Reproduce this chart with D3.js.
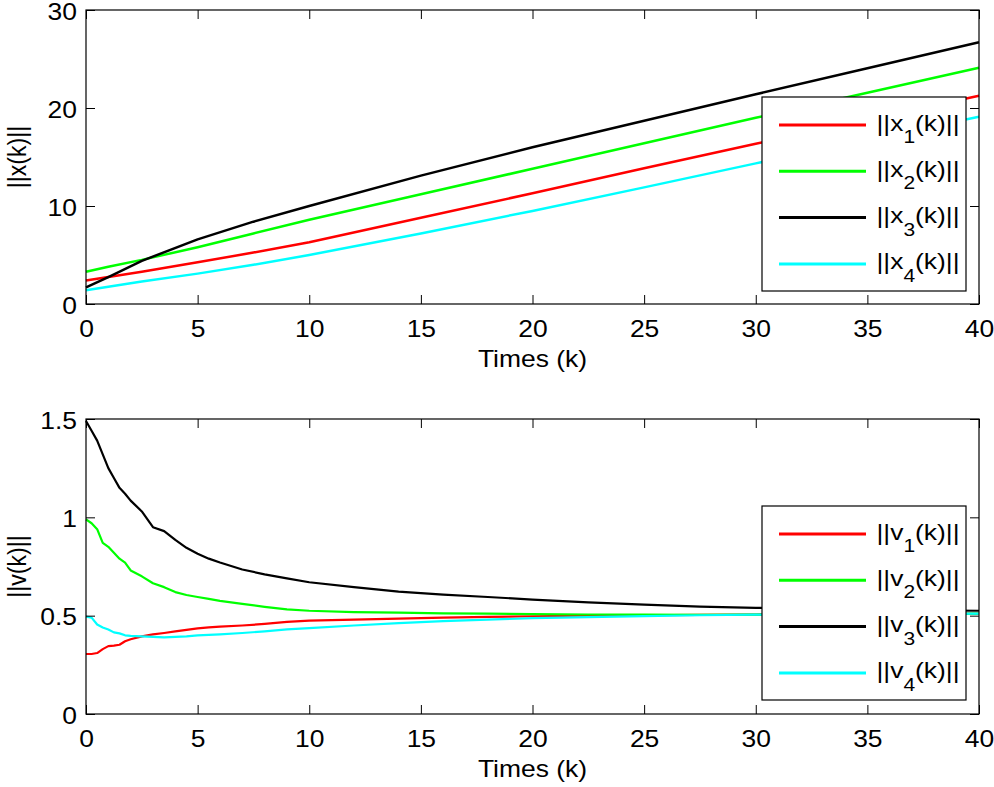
<!DOCTYPE html>
<html>
<head>
<meta charset="utf-8">
<script src="https://cdn.jsdelivr.net/npm/d3@7"></script>
<style>
  body { margin: 0; background: #fff; }
  text { font-family: "Liberation Sans", Arial, Helvetica, sans-serif; fill: #000; }
</style>
</head>
<body>
<svg id="chart" width="994" height="787"></svg>
<script>
const seriesColors = ["#ff0000", "#00ff00", "#000000", "#00ffff"];
const xTicks = [0, 5, 10, 15, 20, 25, 30, 35, 40];
const topYTicks = [0, 10, 20, 30];
const botYTicks = [0, 0.5, 1, 1.5];
const botYTickLabels = ["0", "0.5", "1", "1.5"];

// position norms
const kPos = [0, 1, 2.5, 5, 7.5, 10, 15, 20, 25, 30, 35, 40];
const x1 = [2.4, 2.75, 3.3, 4.25, 5.25, 6.3, 8.8, 11.3, 13.85, 16.35, 18.8, 21.25];
const x2 = [3.3, 3.8, 4.5, 5.8, 7.2, 8.6, 11.2, 13.8, 16.4, 19.0, 21.55, 24.1];
const x3 = [1.7, 2.75, 4.4, 6.6, 8.4, 10.0, 13.1, 16.0, 18.7, 21.4, 24.05, 26.7];
const x4 = [1.4, 1.75, 2.3, 3.1, 4.0, 5.0, 7.2, 9.5, 11.9, 14.35, 16.75, 19.1];

// velocity norms
const kVel = [0, 0.25, 0.5, 0.75, 1, 1.25, 1.5, 1.75, 2, 2.5, 3, 3.5, 4, 4.5, 5, 5.5, 6, 7, 8, 9, 10,
  12, 14, 16, 18, 20, 22.5, 25, 27.5, 30, 32.5, 35, 37.5, 40];
const v1 = [0.305, 0.305, 0.31, 0.33, 0.345, 0.348, 0.352, 0.37, 0.38, 0.395, 0.405, 0.412, 0.42, 0.428,
  0.435, 0.44, 0.444, 0.45, 0.458, 0.468, 0.475, 0.48, 0.485, 0.49, 0.494, 0.497, 0.5, 0.502, 0.504,
  0.506, 0.507, 0.508, 0.509, 0.51];
const v2 = [0.99, 0.97, 0.94, 0.87, 0.85, 0.82, 0.79, 0.77, 0.73, 0.70, 0.665, 0.645, 0.62, 0.605,
  0.595, 0.585, 0.575, 0.56, 0.545, 0.532, 0.525, 0.518, 0.515, 0.512, 0.51, 0.508, 0.506, 0.505,
  0.504, 0.505, 0.506, 0.507, 0.508, 0.51];
const v3 = [1.49, 1.44, 1.39, 1.32, 1.25, 1.20, 1.15, 1.12, 1.085, 1.03, 0.95, 0.93, 0.885, 0.845,
  0.815, 0.79, 0.77, 0.735, 0.71, 0.69, 0.67, 0.645, 0.622, 0.607, 0.595, 0.582, 0.568, 0.556,
  0.546, 0.54, 0.535, 0.53, 0.527, 0.525];
const v4 = [0.495, 0.49, 0.455, 0.44, 0.43, 0.415, 0.41, 0.40, 0.397, 0.395, 0.392, 0.39, 0.392, 0.395,
  0.40, 0.402, 0.405, 0.412, 0.42, 0.43, 0.437, 0.45, 0.462, 0.472, 0.48, 0.487, 0.493, 0.498, 0.502,
  0.505, 0.507, 0.508, 0.509, 0.51];

const svg = d3.select("#chart");
const sx = 1.15; // labels in the figure are a bit wider than Liberation Sans

function drawPanel(opt) {
  const left = 86, right = 979;
  const w = right - left, h = opt.bottom - opt.top;
  const g = svg.append("g").attr("transform", `translate(${left},${opt.top})`);

  const x = d3.scaleLinear().domain([0, 40]).range([0, w]);
  const y = d3.scaleLinear().domain(opt.yDomain).range([h, 0]);

  // lines
  const line = d3.line().x(d => x(d[0])).y(d => y(d[1]));
  opt.series.forEach((vals, i) => {
    g.append("path")
      .datum(opt.k.map((k, j) => [k, vals[j]]))
      .attr("fill", "none")
      .attr("stroke", seriesColors[i])
      .attr("stroke-width", opt.lw)
      .attr("stroke-linejoin", "round")
      .attr("d", line);
  });

  // axes, ticks pointing inward like matlab
  const xb = g.append("g").attr("transform", `translate(0,${h})`)
    .call(d3.axisBottom(x).tickValues(xTicks).tickSizeInner(-9).tickSizeOuter(0).tickPadding(17));
  const yl = g.append("g")
    .call(d3.axisLeft(y).tickValues(opt.yTicks).tickFormat((d, i) => opt.yLabels[i])
      .tickSizeInner(-9).tickSizeOuter(0).tickPadding(9));
  g.append("g").call(d3.axisTop(x).tickValues(xTicks).tickSizeInner(-9).tickSizeOuter(0).tickFormat(""));
  g.append("g").attr("transform", `translate(${w},0)`)
    .call(d3.axisRight(y).tickValues(opt.yTicks).tickSizeInner(-9).tickSizeOuter(0).tickFormat(""));
  g.selectAll(".domain").remove();
  g.selectAll(".tick line").attr("stroke", "#000");

  xb.selectAll("text").attr("font-size", 23).attr("transform", `scale(${sx},1)`);
  yl.selectAll("text").attr("font-size", 23).attr("dy", "0.4em")
    .attr("x", -9 / sx).attr("transform", `scale(${sx},1)`);

  g.append("rect").attr("width", w).attr("height", h)
    .attr("fill", "none").attr("stroke", "#000").attr("stroke-width", 1.2);

  // axis titles
  g.append("text")
    .attr("transform", `translate(${w / 2},${h + 62.5}) scale(${sx},1)`)
    .attr("text-anchor", "middle").attr("font-size", 23)
    .text("Times (k)");
  g.append("text")
    .attr("transform", `translate(${26 - left},${h / 2}) rotate(-90) scale(1.05,1.15)`)
    .attr("text-anchor", "middle").attr("font-size", 22)
    .text(opt.yTitle);

  // legend
  const lg = svg.append("g").attr("transform", `translate(762,${opt.legendTop})`);
  lg.append("rect").attr("width", 204).attr("height", 194)
    .attr("fill", "#fff").attr("stroke", "#000").attr("stroke-width", 1.2);
  seriesColors.forEach((c, i) => {
    const yy = 28 + i * 46.3;
    lg.append("line").attr("x1", 17).attr("x2", 104).attr("y1", yy).attr("y2", yy)
      .attr("stroke", c).attr("stroke-width", 3);
    const t = lg.append("text")
      .attr("transform", `translate(114.5,${yy + 5.5}) scale(1.2,1)`)
      .attr("font-size", 22);
    t.append("tspan").text("||" + opt.sym);
    t.append("tspan").attr("font-size", 17.5).attr("dy", 12.5).text(i + 1);
    t.append("tspan").attr("dy", -12.5).text("(k)||");
  });
}

drawPanel({
  top: 10, bottom: 304,
  yDomain: [0, 30], yTicks: topYTicks, yLabels: topYTicks.map(String),
  k: kPos, series: [x1, x2, x3, x4], lw: 2.5,
  yTitle: "||x(k)||", sym: "x", legendTop: 97
});

drawPanel({
  top: 419, bottom: 714,
  yDomain: [0, 1.5], yTicks: botYTicks, yLabels: botYTickLabels,
  k: kVel, series: [v1, v2, v3, v4], lw: 2.2,
  yTitle: "||v(k)||", sym: "v", legendTop: 506
});
</script>
</body>
</html>
